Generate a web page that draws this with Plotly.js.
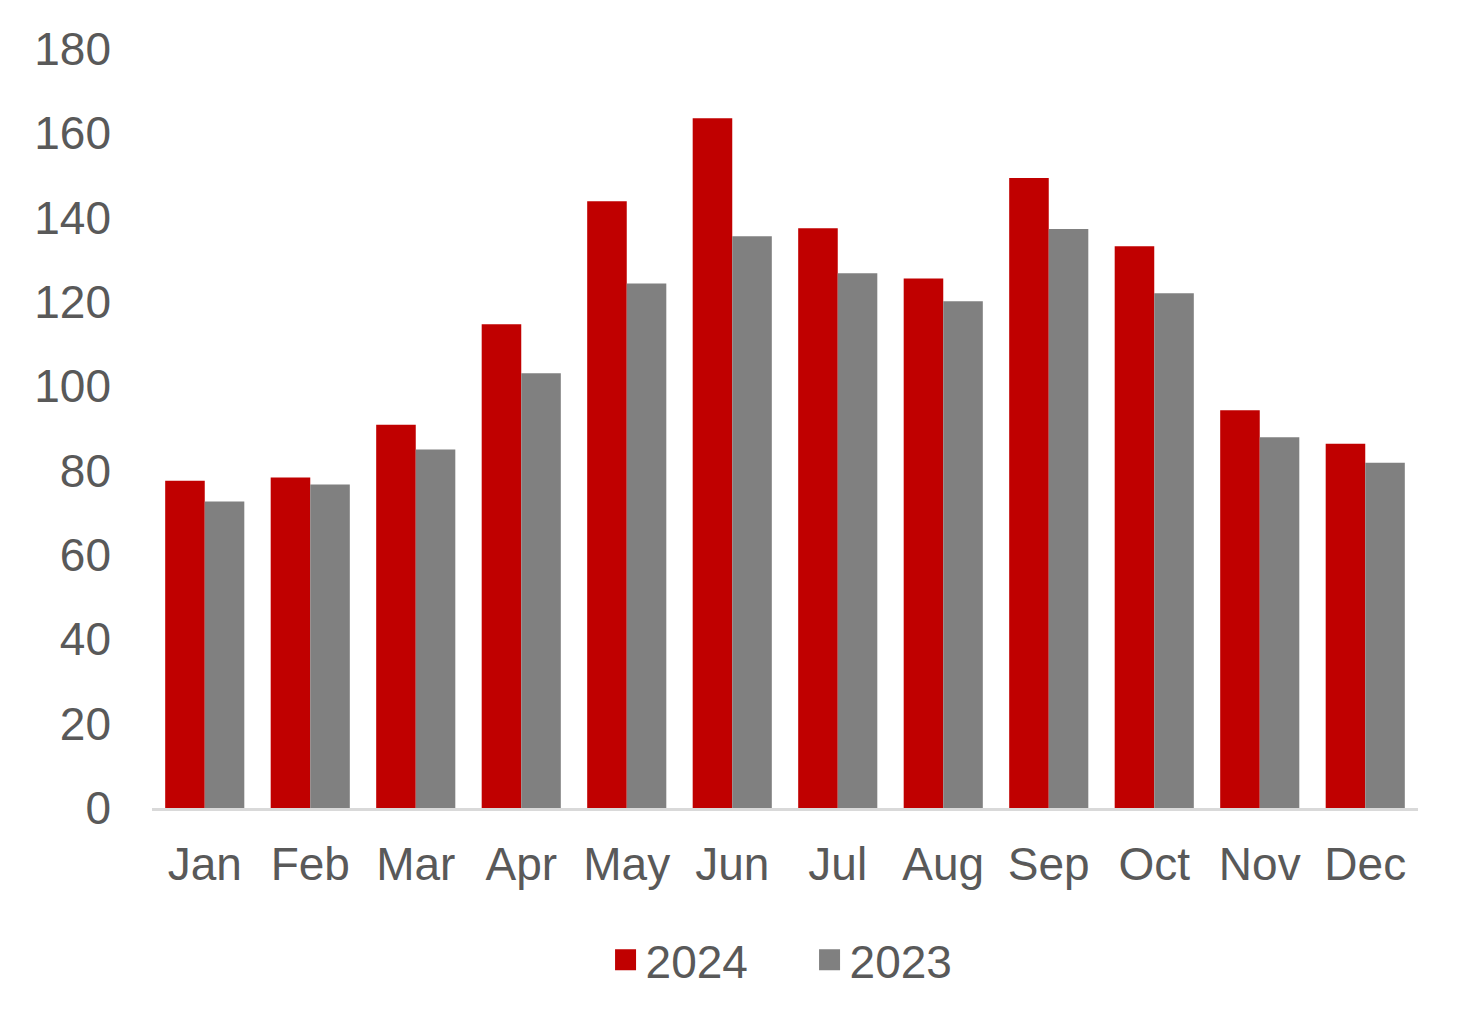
<!DOCTYPE html>
<html>
<head>
<meta charset="utf-8">
<script src="https://cdn.plot.ly/plotly-3.0.1.min.js"></script>
<style>
  html, body { margin: 0; padding: 0; background: #fff; }
  #chart { width: 1469px; height: 1029px; }
</style>
</head>
<body>
<div id="chart"></div>
<script>
// monthly values
var months = ['Jan', 'Feb', 'Mar', 'Apr', 'May', 'Jun', 'Jul', 'Aug', 'Sep', 'Oct', 'Nov', 'Dec'];
var values2024 = [77.6, 78.4, 90.9, 114.7, 143.9, 163.6, 137.5, 125.6, 149.4, 133.2, 94.3, 86.4];
var values2023 = [72.7, 76.7, 85.0, 103.1, 124.4, 135.6, 126.8, 120.2, 137.3, 122.1, 87.9, 81.9];
var yTicks = [0, 20, 40, 60, 80, 100, 120, 140, 160, 180];

var red = '#C00000';
var grey = '#808080';
var textColor = '#595959';
var fontFamily = '"Liberation Sans", Arial, sans-serif';

// bar traces (legend is drawn by the marker traces below, bigger squares)
var bars24 = {
    x: months, y: values2024, type: 'bar', name: '2024',
    marker: {color: red}, showlegend: false, hoverinfo: 'y'
};
var bars23 = {
    x: months, y: values2023, type: 'bar', name: '2023',
    marker: {color: grey}, showlegend: false, hoverinfo: 'y'
};

// legend only traces
var leg24 = {
    x: [months[0]], y: [null], type: 'scatter', mode: 'markers', name: '2024',
    marker: {symbol: 'square', color: red, size: 20, line: {color: red, width: 5}}
};
var leg23 = {
    x: [months[0]], y: [null], type: 'scatter', mode: 'markers', name: '2023',
    marker: {symbol: 'square', color: grey, size: 20, line: {color: grey, width: 5}}
};

var layout = {
    width: 1469,
    height: 1029,
    margin: {l: 152, r: 51, t: 49, b: 221, pad: 0},
    paper_bgcolor: '#ffffff',
    plot_bgcolor: '#ffffff',
    font: {family: fontFamily, color: textColor, size: 46},
    barmode: 'group',
    bargap: 0.25,
    bargroupgap: 0,
    xaxis: {
        type: 'category',
        range: [-0.5, 11.5],
        automargin: false,
        showgrid: false,
        zeroline: false,
        showline: true,
        linecolor: '#d9d9d9',
        linewidth: 3,
        ticks: '',
        ticklabelstandoff: 14,
        tickfont: {family: fontFamily, size: 46, color: textColor},
        fixedrange: true
    },
    yaxis: {
        range: [0, 180],
        automargin: false,
        tickvals: yTicks,
        ticktext: yTicks.map(String),
        showgrid: false,
        zeroline: false,
        showline: false,
        ticks: '',
        ticklabelstandoff: 40,
        tickfont: {family: fontFamily, size: 46, color: textColor},
        fixedrange: true
    },
    showlegend: true,
    legend: {
        orientation: 'h',
        x: 0.5194, xanchor: 'center',
        y: -0.2, yanchor: 'middle',
        font: {family: fontFamily, size: 46, color: textColor},
        itemsizing: 'trace',
        entrywidth: 159,
        entrywidthmode: 'pixels',
        traceorder: 'normal'
    }
};

Plotly.newPlot('chart', [bars24, bars23, leg24, leg23], layout, {displayModeBar: false, staticPlot: true});
</script>
</body>
</html>
